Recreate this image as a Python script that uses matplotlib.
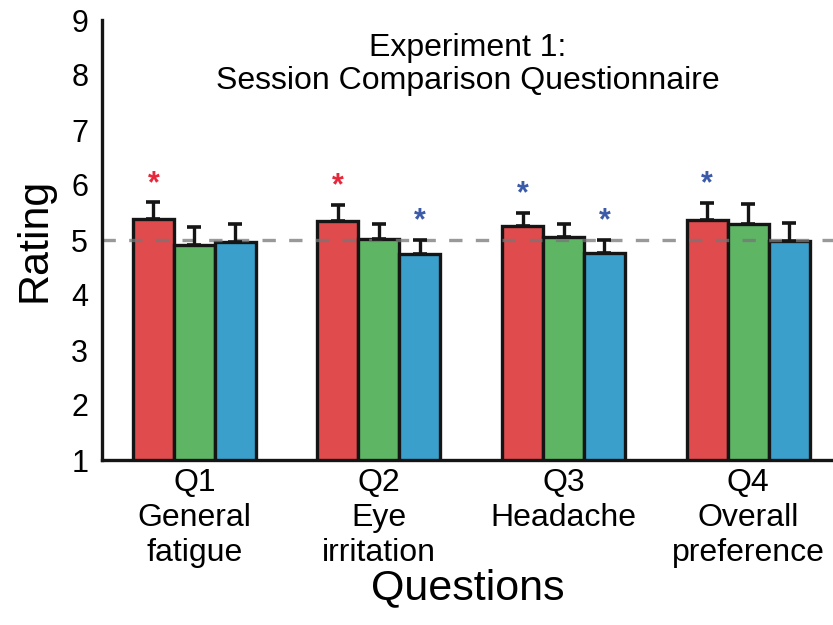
import numpy as np
import matplotlib
matplotlib.use("Agg")
import matplotlib.pyplot as plt

plt.rcParams['font.family'] = ['Liberation Sans', 'DejaVu Sans']

# data
questions = ["Q1\nGeneral\nfatigue", "Q2\nEye\nirritation", "Q3\nHeadache", "Q4\nOverall\npreference"]
red_vals = [5.38, 5.35, 5.25, 5.37]
red_err = [0.31, 0.29, 0.24, 0.31]
green_vals = [4.91, 5.02, 5.06, 5.29]
green_err = [0.33, 0.27, 0.24, 0.36]
blue_vals = [4.97, 4.75, 4.77, 4.99]
blue_err = [0.32, 0.25, 0.23, 0.32]
# significance markers: (series, question index, colour)
stars = [("red", 0, "r"), ("red", 1, "r"), ("blue", 1, "b"),
         ("red", 2, "b"), ("blue", 2, "b"), ("red", 3, "b")]

colors = {"red": "#e04b4d", "green": "#5eb665", "blue": "#3aa0cb"}
star_colors = {"r": "#e8283a", "b": "#3b5ba8"}

fig = plt.figure(figsize=(8.33, 6.25), dpi=100)
ax = fig.add_axes([0.1225, 0.264, 0.8775, 0.704])

x = np.arange(1, len(questions) + 1)
w = 0.222
series = {"red": (red_vals, red_err, -w), "green": (green_vals, green_err, 0), "blue": (blue_vals, blue_err, w)}

for name, (vals, err, off) in series.items():
    ax.bar(x + off, vals, width=w, bottom=0, color=colors[name], edgecolor="#151515", linewidth=2.4, zorder=2)
    ax.errorbar(x + off, vals, yerr=[np.zeros(len(vals)), err], fmt="none", ecolor="#151515",
                elinewidth=2.4, capsize=5, capthick=2.6, zorder=3)

for name, i, c in stars:
    vals, err, off = series[name]
    ax.text(x[i] + off, vals[i] + err[i] + 0.06, "*", color=star_colors[c], fontsize=22,
            ha="center", va="bottom", fontweight="bold", zorder=4)

ax.axhline(5, color="#777777", linestyle=(0, (4, 4)), linewidth=2.4, alpha=0.75, zorder=2.5)

ax.set_ylim(1, 9)
ax.set_xlim(0.5, 4.46)
ax.set_yticks(range(1, 10))
ax.set_xticks(x)
ax.set_xticklabels(questions, linespacing=1.22)
ax.tick_params(axis="y", length=0, labelsize=22, pad=10)
ax.tick_params(axis="x", length=0, labelsize=23, pad=6)
for s in ["top", "right"]:
    ax.spines[s].set_visible(False)
for s in ["left", "bottom"]:
    ax.spines[s].set_linewidth(2.4)
    ax.spines[s].set_color("#151515")

ax.set_ylabel("Rating", fontsize=31, labelpad=12)
ax.set_xlabel("Questions", fontsize=31, labelpad=0)
ax.text(0.50, 0.97, "Experiment 1:\nSession Comparison Questionnaire", transform=ax.transAxes,
        ha="center", va="top", fontsize=23, linespacing=1.1)

fig.savefig("out.png", dpi=100)
